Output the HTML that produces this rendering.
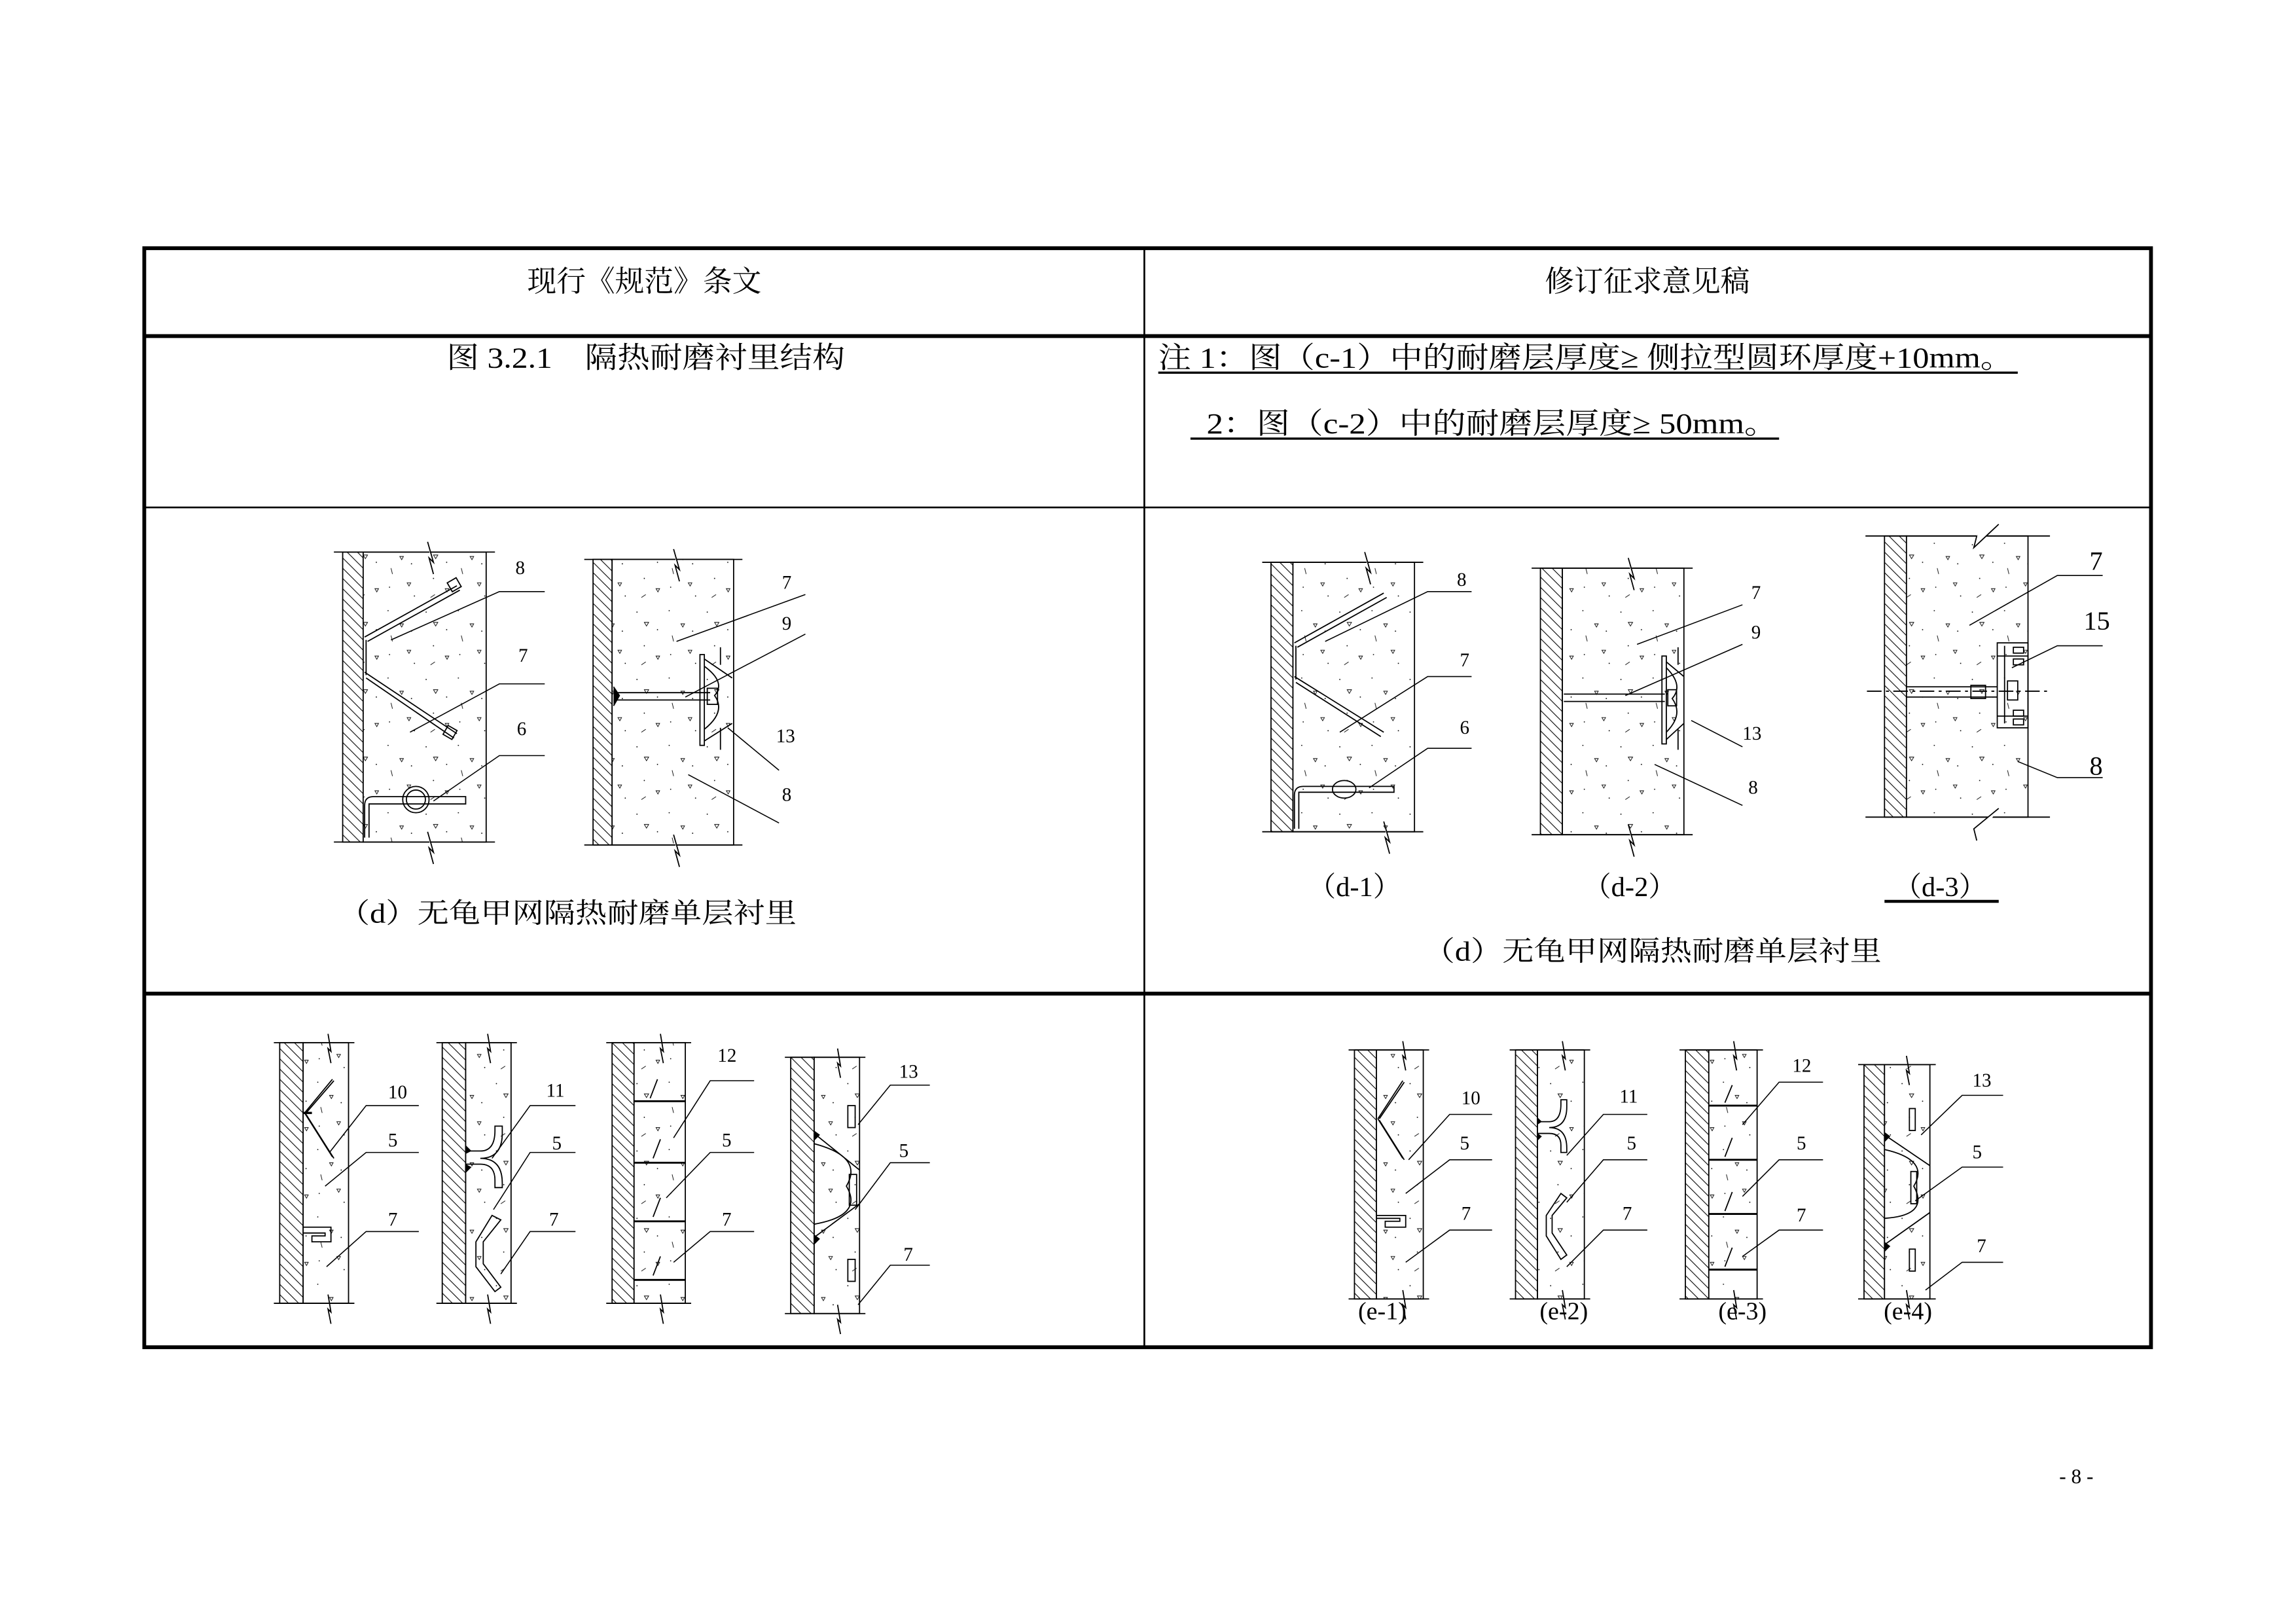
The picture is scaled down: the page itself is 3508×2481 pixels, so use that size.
<!DOCTYPE html>
<html><head><meta charset="utf-8"><style>
html,body{margin:0;padding:0;background:#fff;}
svg{display:block;}
text{font-family:"Liberation Serif","Noto Serif CJK SC","Noto Sans CJK SC",serif;fill:#000;}
</style></head><body>
<svg width="3508" height="2481" viewBox="0 0 1568 1109" xmlns="http://www.w3.org/2000/svg">
<defs>
<pattern id="h" width="7" height="7" patternUnits="userSpaceOnUse">
<path d="M0,0 L7,7 M-2,5 L2,9 M5,-2 L9,2" stroke="#000" stroke-width="0.5"/>
</pattern>
<pattern id="c" width="48" height="46" patternUnits="userSpaceOnUse">
<rect width="48" height="46" fill="#fff"/>
<g fill="#000"><circle cx="3" cy="4" r="0.4"/><circle cx="25" cy="3" r="0.4"/><circle cx="41" cy="17" r="0.4"/><circle cx="8" cy="27" r="0.4"/><circle cx="26" cy="33" r="0.4"/><circle cx="43" cy="39" r="0.4"/><circle cx="17" cy="16" r="0.4"/></g>
<g fill="none" stroke="#000" stroke-width="0.4"><path d="M8,11 l3,0 l-1.5,2.5z"/><path d="M33,12 l2.5,0 l-1.2,2.2z"/><path d="M16,34 l2.5,0 l-1.2,2.2z"/><path d="M38,30 l2.5,0 l-1.2,2.2z"/><path d="M27,20 l1,4 M6,40 l3,-2"/></g>
</pattern>
</defs>
<rect width="1568" height="1109" fill="#fff"/>

<g stroke="#000" fill="none">
<rect x="98.5" y="169.5" width="1370.5" height="750.5" stroke-width="2.6"/>
<line x1="98" y1="229.5" x2="1469" y2="229.5" stroke-width="2.6"/>
<line x1="98" y1="346.5" x2="1469" y2="346.5" stroke-width="1.2"/>
<line x1="98" y1="678.5" x2="1469" y2="678.5" stroke-width="2.6"/>
<line x1="781.5" y1="169" x2="781.5" y2="920" stroke-width="1.2"/>
</g>
<text x="440" y="199" font-size="20" text-anchor="middle">现行《规范》条文</text>
<text x="1125" y="199" font-size="20" text-anchor="middle">修订征求意见稿</text>
<text x="305" y="251" font-size="20" textLength="272" lengthAdjust="spacingAndGlyphs">图 3.2.1　隔热耐磨衬里结构</text>
<text x="791" y="251" font-size="20" textLength="584" lengthAdjust="spacingAndGlyphs">注 1：图（c-1）中的耐磨层厚度≥ 侧拉型圆环厚度+10mm。</text>
<line x1="791" y1="254.5" x2="1378" y2="254.5" stroke="#000" stroke-width="1.5"/>
<text x="824" y="296" font-size="20" textLength="390" lengthAdjust="spacingAndGlyphs">2：图（c-2）中的耐磨层厚度≥ 50mm。</text>
<line x1="813" y1="299.5" x2="1215" y2="299.5" stroke="#000" stroke-width="1.5"/>

<g stroke="#000" stroke-width="0.8">
<rect x="234" y="377" width="14" height="198" fill="url(#h)"/>
<rect x="248" y="377" width="84" height="198" fill="url(#c)"/>
<line x1="228" y1="377" x2="338" y2="377"/><line x1="228" y1="575" x2="338" y2="575"/>
<rect x="405" y="382" width="13" height="195" fill="url(#h)"/>
<rect x="418" y="382" width="83" height="195" fill="url(#c)"/>
<line x1="399" y1="382" x2="507" y2="382"/><line x1="399" y1="577" x2="507" y2="577"/>
<rect x="868" y="384" width="15" height="184" fill="url(#h)"/>
<rect x="883" y="384" width="83" height="184" fill="url(#c)"/>
<line x1="862" y1="384" x2="972" y2="384"/><line x1="862" y1="568" x2="972" y2="568"/>
<rect x="1052" y="388" width="15" height="182" fill="url(#h)"/>
<rect x="1067" y="388" width="83" height="182" fill="url(#c)"/>
<line x1="1046" y1="388" x2="1156" y2="388"/><line x1="1046" y1="570" x2="1156" y2="570"/>
<rect x="1287" y="366" width="15" height="192" fill="url(#h)"/>
<rect x="1302" y="366" width="83" height="192" fill="url(#c)"/>
<line x1="1274" y1="366" x2="1400" y2="366"/><line x1="1274" y1="558" x2="1400" y2="558"/>
<rect x="191" y="712" width="16" height="178" fill="url(#h)"/>
<rect x="207" y="712" width="31" height="178" fill="url(#c)"/>
<line x1="187" y1="712" x2="242" y2="712"/><line x1="187" y1="890" x2="242" y2="890"/>
<rect x="302" y="712" width="16" height="178" fill="url(#h)"/>
<rect x="318" y="712" width="31" height="178" fill="url(#c)"/>
<line x1="298" y1="712" x2="353" y2="712"/><line x1="298" y1="890" x2="353" y2="890"/>
<rect x="418" y="712" width="15" height="178" fill="url(#h)"/>
<rect x="433" y="712" width="35" height="178" fill="url(#c)"/>
<line x1="414" y1="712" x2="472" y2="712"/><line x1="414" y1="890" x2="472" y2="890"/>
<rect x="540" y="722" width="16" height="175" fill="url(#h)"/>
<rect x="556" y="722" width="31" height="175" fill="url(#c)"/>
<line x1="536" y1="722" x2="591" y2="722"/><line x1="536" y1="897" x2="591" y2="897"/>
<rect x="925" y="717" width="15" height="170" fill="url(#h)"/>
<rect x="940" y="717" width="32" height="170" fill="url(#c)"/>
<line x1="921" y1="717" x2="976" y2="717"/><line x1="921" y1="887" x2="976" y2="887"/>
<rect x="1035" y="717" width="15" height="170" fill="url(#h)"/>
<rect x="1050" y="717" width="32" height="170" fill="url(#c)"/>
<line x1="1031" y1="717" x2="1086" y2="717"/><line x1="1031" y1="887" x2="1086" y2="887"/>
<rect x="1151" y="717" width="16" height="170" fill="url(#h)"/>
<rect x="1167" y="717" width="33" height="170" fill="url(#c)"/>
<line x1="1147" y1="717" x2="1204" y2="717"/><line x1="1147" y1="887" x2="1204" y2="887"/>
<rect x="1273" y="727" width="14" height="160" fill="url(#h)"/>
<rect x="1287" y="727" width="31" height="160" fill="url(#c)"/>
<line x1="1269" y1="727" x2="1322" y2="727"/><line x1="1269" y1="887" x2="1322" y2="887"/>
</g>

<g stroke="#000" stroke-width="0.8" fill="#fff">
<path d="M292,370 L296,384 L293,381 L296,392"/><path d="M292,568 L296,582 L293,579 L296,590"/>
<path d="M460,375 L464,389 L461,386 L464,397"/><path d="M460,570 L464,584 L461,581 L464,592"/>
<path d="M932,377 L936,391 L933,388 L936,399"/><path d="M945,561 L949,575 L946,572 L949,583"/>
<path d="M1112,381 L1116,395 L1113,392 L1116,403"/><path d="M1112,563 L1116,577 L1113,574 L1116,585"/>
<path d="M1365,358 L1348,374 L1350,366"/><path d="M1365,552 L1348,566 L1350,574"/>
<path d="M224,706 L226,718 L224,716 L226,726"/><path d="M224,884 L226,896 L224,894 L226,904"/>
<path d="M333,706 L335,718 L333,716 L335,726"/><path d="M333,884 L335,896 L333,894 L335,904"/>
<path d="M451,706 L453,718 L451,716 L453,726"/><path d="M451,884 L453,896 L451,894 L453,904"/>
<path d="M572,716 L574,728 L572,726 L574,736"/><path d="M572,891 L574,903 L572,901 L574,911"/>
<path d="M958,711 L960,723 L958,721 L960,731"/><path d="M958,881 L960,893 L958,891 L960,901"/>
<path d="M1067,711 L1069,723 L1067,721 L1069,731"/><path d="M1067,881 L1069,893 L1067,891 L1069,901"/>
<path d="M1184,711 L1186,723 L1184,721 L1186,731"/><path d="M1184,881 L1186,893 L1184,891 L1186,901"/>
<path d="M1302,721 L1304,733 L1302,731 L1304,741"/><path d="M1302,881 L1304,893 L1302,891 L1304,901"/>
</g>

<g stroke="#000" stroke-width="0.8" fill="none">
<path d="M249,435 L312,400 M251,438 L314,403"/><rect x="307" y="396" width="7" height="7" transform="rotate(-30 310 400)"/>
<path d="M249,459 L312,501 M250,463 L310,504"/><rect x="304" y="497" width="7" height="7" transform="rotate(30 308 500)"/>
<line x1="250" y1="437" x2="250" y2="461"/>
<circle cx="284" cy="546" r="9" fill="#fff"/><circle cx="284" cy="546" r="6.5"/>
<path d="M249,572 L249,550 Q249,544 255,544 L318,544 L318,549 L252,549 L252,572"/>
<path d="M419,473 L485,473 M419,478 L485,478"/><path d="M419,469 L423,475 L419,482" fill="#000"/>
<rect x="478" y="447" width="3" height="62"/><path d="M481,450 L500,463 M481,506 L500,494 M481,455 Q496,466 488,475 Q496,486 481,498"/>
<rect x="483" y="470" width="7" height="11"/><line x1="492" y1="442" x2="492" y2="454"/><line x1="492" y1="497" x2="492" y2="512"/>
<path d="M884,439 L945,405 M886,442 L947,408"/>
<path d="M884,462 L945,500 M885,466 L943,503"/>
<line x1="885" y1="441" x2="885" y2="464"/>
<ellipse cx="918" cy="539" rx="8" ry="6" fill="#fff"/>
<path d="M884,566 L884,543 Q884,537 890,537 L952,537 L952,541 L887,541 L887,566"/>
<path d="M1068,474 L1137,474 M1068,479 L1137,479"/>
<rect x="1135" y="448" width="3" height="60"/><path d="M1138,452 L1150,462 M1138,505 L1150,494 M1138,456 Q1150,468 1142,477 Q1150,488 1138,500"/>
<rect x="1139" y="471" width="6" height="11"/><line x1="1146" y1="442" x2="1146" y2="454"/><line x1="1146" y1="498" x2="1146" y2="512"/>
<line x1="1275" y1="472" x2="1400" y2="472" stroke-dasharray="10,3,2,3"/>
<path d="M1302,469 L1364,469 M1302,476 L1364,476"/>
<rect x="1346" y="468" width="10" height="9"/>
<rect x="1364" y="439" width="21" height="58"/><line x1="1369" y1="441" x2="1369" y2="494"/>
<rect x="1371" y="465" width="7" height="13"/>
<rect x="1375" y="442" width="7" height="4"/><rect x="1375" y="450" width="7" height="4"/><rect x="1375" y="485" width="7" height="4"/><rect x="1375" y="491" width="7" height="4"/>
<line x1="1364" y1="448" x2="1385" y2="448"/><line x1="1364" y1="489" x2="1385" y2="489"/>
<path d="M208,760 L227,737 M208,760 L227,790 M209,760 L228,738 M209,761 L228,791"/><line x1="207" y1="760" x2="213" y2="760" stroke-width="1.5"/>
<path d="M207,838 L226,838 L226,848 L213,848 L213,844 L222,844 L222,842 L207,842"/>
<path d="M318,786 L328,786 Q338,786 338,772 L338,769 L343,769 L343,774 Q343,791 328,791 M328,791 Q343,791 343,808 L343,811 L338,811 L338,806 Q338,795 328,795 L318,795"/>
<path d="M336,830 L342,833 L330,848 L330,863 L342,879 L338,882 L325,865 L325,848z"/>
<g stroke-width="1.3"><line x1="433" y1="752" x2="468" y2="752"/><line x1="433" y1="794" x2="468" y2="794"/><line x1="433" y1="834" x2="468" y2="834"/><line x1="433" y1="874" x2="468" y2="874"/></g>
<path d="M444,750 L449,737 M446,791 L451,778 M446,831 L451,818 M446,871 L451,858"/>
<path d="M556,774 L587,799 M556,845 L587,822 M556,781 Q590,790 578,810 Q590,830 556,836"/>
<rect x="579" y="755" width="5" height="15"/><rect x="580" y="802" width="5" height="21"/><rect x="579" y="860" width="5" height="15"/>
<path d="M941,764 L958,738 M941,764 L958,791 M942,764 L959,739 M942,765 L959,792"/>
<path d="M940,830 L960,830 L960,838 L946,838 L946,834 L956,834 L956,832 L940,832"/>
<path d="M1050,766 L1058,766 Q1066,766 1066,754 L1066,751 L1070,751 L1070,756 Q1070,770 1058,770 Q1070,770 1070,784 L1070,787 L1066,787 L1066,782 Q1066,774 1058,774 L1050,774"/>
<path d="M1066,815 L1070,818 L1060,830 L1060,842 L1070,857 L1066,860 L1056,844 L1056,830z"/>
<g stroke-width="1.3"><line x1="1167" y1="755" x2="1200" y2="755"/><line x1="1167" y1="792" x2="1200" y2="792"/><line x1="1167" y1="829" x2="1200" y2="829"/><line x1="1167" y1="867" x2="1200" y2="867"/></g>
<path d="M1178,753 L1183,741 M1178,790 L1183,777 M1178,827 L1183,814 M1178,865 L1183,852"/>
<path d="M1287,775 L1318,796 M1287,850 L1318,828 M1287,785 Q1318,792 1307,810 Q1318,830 1287,832"/>
<rect x="1304" y="757" width="4" height="15"/><rect x="1305" y="800" width="4" height="22"/><rect x="1304" y="853" width="4" height="15"/>
</g>
<g fill="#000">
<path d="M1287,773 l4,3 l-4,4z"/><path d="M1287,848 l4,3 l-4,4z"/>
<path d="M556,772 l4,3 l-4,4z"/><path d="M556,843 l4,3 l-4,4z"/>
<path d="M318,782 l4,4 l-4,2z"/><path d="M318,795 l4,2 l-4,4z"/>
<path d="M1050,763 l3,3 l-3,2z"/><path d="M1050,774 l3,2 l-3,3z"/>
</g>

<g stroke="#000" stroke-width="0.7" fill="none">
<path d="M372,404 L341,404 L267,437"/><path d="M372,467 L341,467 L280,500"/><path d="M372,516 L341,516 L296,547"/>
<path d="M550,406 L462,438"/><path d="M550,433 L468,476"/><path d="M497,497 L532,526"/><path d="M470,529 L532,562"/>
<path d="M1005,404 L975,404 L905,438"/><path d="M1005,462 L975,462 L915,500"/><path d="M1005,511 L975,511 L935,538"/>
<path d="M1190,413 L1118,440"/><path d="M1190,440 L1110,475"/><path d="M1155,492 L1190,510"/><path d="M1130,522 L1190,550"/>
<path d="M1436,393 L1405,393 L1345,427"/><path d="M1436,441 L1405,441 L1374,456"/><path d="M1436,531 L1405,531 L1378,520"/>
<path d="M286,755 L250,755 L225,787"/><path d="M286,787 L250,787 L222,810"/><path d="M286,841 L250,841 L223,865"/>
<path d="M393,755 L362,755 L336,791"/><path d="M393,787 L362,787 L337,826"/><path d="M393,841 L362,841 L342,870"/>
<path d="M515,738 L485,738 L460,777"/><path d="M515,787 L485,787 L455,818"/><path d="M515,841 L485,841 L460,862"/>
<path d="M635,741 L608,741 L586,768"/><path d="M635,794 L608,794 L584,826"/><path d="M635,864 L608,864 L586,891"/>
<path d="M1019,761 L990,761 L962,792"/><path d="M1019,792 L990,792 L960,815"/><path d="M1019,840 L990,840 L960,862"/>
<path d="M1125,761 L1095,761 L1070,789"/><path d="M1125,792 L1095,792 L1070,821"/><path d="M1125,840 L1095,840 L1070,865"/>
<path d="M1245,739 L1215,739 L1190,768"/><path d="M1245,792 L1215,792 L1190,817"/><path d="M1245,840 L1215,840 L1190,858"/>
<path d="M1368,748 L1340,748 L1312,775"/><path d="M1368,797 L1340,797 L1308,820"/><path d="M1368,862 L1340,862 L1315,881"/>
</g>

<g font-size="13">
<text x="352" y="392">8</text><text x="354" y="452">7</text><text x="353" y="502">6</text>
<text x="534" y="402">7</text><text x="534" y="430">9</text><text x="530" y="507">13</text><text x="534" y="547">8</text>
<text x="995" y="400">8</text><text x="997" y="455">7</text><text x="997" y="501">6</text>
<text x="1196" y="409">7</text><text x="1196" y="436">9</text><text x="1190" y="505">13</text><text x="1194" y="542">8</text>
<text x="265" y="750">10</text><text x="265" y="783">5</text><text x="265" y="837">7</text>
<text x="373" y="749">11</text><text x="377" y="785">5</text><text x="375" y="837">7</text>
<text x="490" y="725">12</text><text x="493" y="783">5</text><text x="493" y="837">7</text>
<text x="614" y="736">13</text><text x="614" y="790">5</text><text x="617" y="861">7</text>
<text x="998" y="754">10</text><text x="997" y="785">5</text><text x="998" y="833">7</text>
<text x="1106" y="753">11</text><text x="1111" y="785">5</text><text x="1108" y="833">7</text>
<text x="1224" y="732">12</text><text x="1227" y="785">5</text><text x="1227" y="834">7</text>
<text x="1347" y="742">13</text><text x="1347" y="791">5</text><text x="1350" y="855">7</text>
</g>
<g style="font-family:'Liberation Sans',sans-serif">
<text x="1427" y="389" font-size="18">7</text><text x="1423" y="430" font-size="18">15</text><text x="1427" y="529" font-size="18">8</text>
</g>

<g font-size="19">
<text x="925" y="612" text-anchor="middle">（d-1）</text>
<text x="1113" y="612" text-anchor="middle">（d-2）</text>
<text x="1325" y="612" text-anchor="middle">（d-3）</text>
<text x="231" y="630" textLength="313" lengthAdjust="spacingAndGlyphs">（d）无龟甲网隔热耐磨单层衬里</text>
<text x="972" y="656" textLength="313" lengthAdjust="spacingAndGlyphs">（d）无龟甲网隔热耐磨单层衬里</text>
</g>
<line x1="1287" y1="615.5" x2="1365" y2="615.5" stroke="#000" stroke-width="2"/>
<g font-size="17" text-anchor="middle">
<text x="944" y="901">(e-1)</text><text x="1068" y="901">(e-2)</text><text x="1190" y="901">(e-3)</text><text x="1303" y="901">(e-4)</text>
</g>
<text x="1418" y="1013" font-size="14" text-anchor="middle">- 8 -</text>
</svg>
</body></html>
